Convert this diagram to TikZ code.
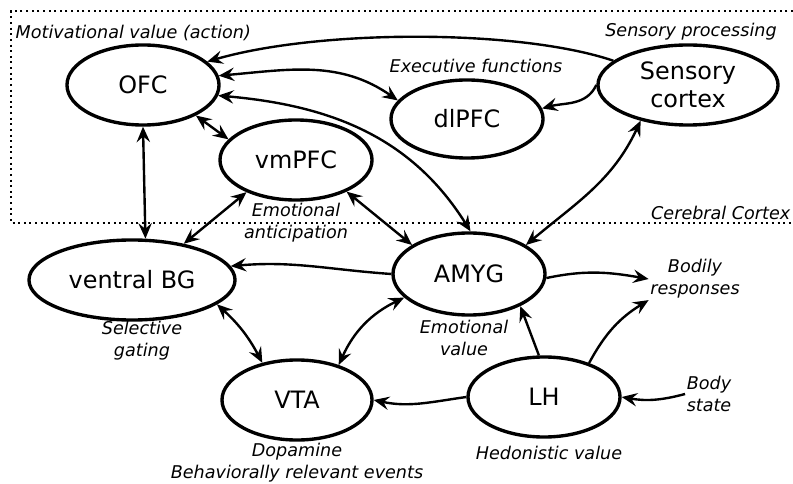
\documentclass[tikz,border=0pt]{standalone}
\usepackage{fontspec}
\setmainfont{DejaVu Sans}
\usetikzlibrary{shapes.geometric,arrows.meta}

\begin{document}
\begin{tikzpicture}[x=0.025cm, y=-0.025cm,
    area/.style={ellipse, draw, line width=2.4pt, inner sep=0pt,
      minimum width=3.8cm, minimum height=2cm, align=center,
      font=\fontsize{17}{20}\selectfont},
    note/.style={inner sep=1pt, align=center,
      font=\fontsize{12.5}{15.5}\selectfont\itshape},
    onearrow/.style={line width=1.7pt, -{Stealth[length=11pt,width=9.5pt,inset=4pt]}},
    twoarrow/.style={line width=1.7pt, {Stealth[length=11pt,width=9.5pt,inset=4pt]}-{Stealth[length=11pt,width=9.5pt,inset=4pt]}}]
      \useasboundingbox (0,0) rectangle (793,484);

      % Cerebral cortex region (open on the right)
      \draw[line width=1.4pt, dash pattern=on 1.4pt off 2.6pt] (793,11) -- (11,11) -- (11,223) -- (793,223);

      % Brain areas
      \node[area] (ofc) at (143,85) {OFC};                                  % Top left
      \node[area, minimum height=1.95cm] (dlpfc) at (467,119) {dlPFC};      % Top middle
      \node[area, minimum width=4.5cm] (sens) at (688,85) {Sensory\\cortex}; % Top right
      \node[area] (vmpfc) at (296,160) {vmPFC};                             % Below OFC
      \node[area, minimum width=5.15cm] (vbg) at (132,280) {ventral BG};    % Left
      \node[area, minimum height=2.05cm] (amyg) at (469,274) {AMYG};        % Middle
      \node[area, minimum width=3.75cm] (vta) at (297,400) {VTA};           % Bottom left
      \node[area] (lh) at (544,397) {LH};                                   % Bottom right

      % Italic labels
      \node[note, anchor=west] (motiv) at (14,33) {Motivational value (action)};
      \node[note] (sensproc) at (691,32) {Sensory processing};
      \node[note] (exec) at (476,66) {Executive functions};
      \node[note] (emoant) at (296,223) {Emotional\\anticipation};
      \node[note, anchor=east] (cortexlab) at (792,213) {Cerebral Cortex};
      \node[note] (selgate) at (142,341) {Selective\\gating};
      \node[note] (emoval) at (464,338) {Emotional\\value};
      \node[note] (bodily) at (695,279) {Bodily\\responses};
      \node[note] (bodystate) at (709,394) {Body\\state};
      \node[note] (dopa) at (297,463) {Dopamine\\Behaviorally relevant events};
      \node[note] (hedon) at (549,453) {Hedonistic value};

      % Connections inside the cortex
      \draw[onearrow] (sens.162) .. controls (520,29) and (320,29) .. (ofc.20);
      \draw[twoarrow] (ofc.7) to[out=5, in=145] (dlpfc.165);
      \draw[twoarrow] (ofc.-8) to[out=-5, in=122] (amyg.88);
      \draw[twoarrow] (ofc.-30) -- (vmpfc.163);
      \draw[onearrow] (sens.west) to[out=-115, in=15] (dlpfc.8);
      \draw[twoarrow] (sens.217) to[out=-115, in=40] (amyg.27);

      % Connections to subcortical areas
      \draw[twoarrow] (ofc.south) -- (vbg.72);
      \draw[twoarrow] (vmpfc.213) -- (vbg.35);
      \draw[twoarrow] (vmpfc.-32) -- (amyg.153);
      \draw[onearrow] (amyg.west) to[out=176, in=5] (vbg.8);
      \draw[twoarrow] (vbg.-16) to[bend left=10] (vta.133);
      \draw[twoarrow] (amyg.200) to[bend right=20] (vta.40);
      \draw[onearrow] (lh.west) to[out=188, in=-12] (vta.east);
      \draw[onearrow] (lh.97) -- (amyg.-32);
      \draw[onearrow] (lh.37) to[bend left=15] (bodily.south west);
      \draw[onearrow] (amyg.-3) to[out=12, in=170] (bodily.west);
      \draw[onearrow] (bodystate.west) to[out=195, in=-10] (lh.east);

  \end{tikzpicture}
\end{document}
